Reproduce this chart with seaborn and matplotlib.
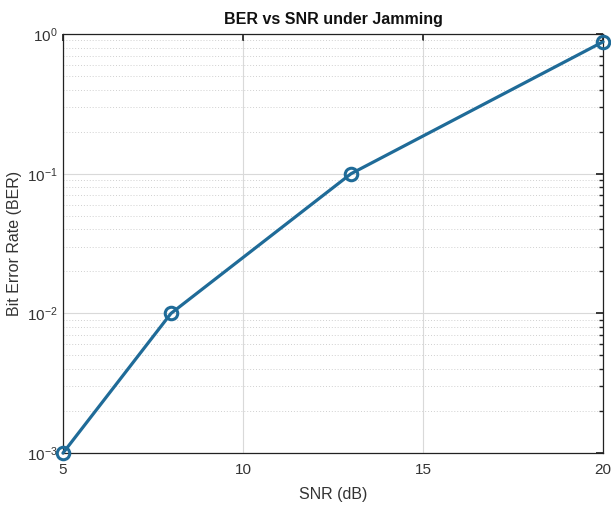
import matplotlib
matplotlib.use("Agg")
import matplotlib.pyplot as plt
import seaborn as sns
import pandas as pd
from matplotlib.ticker import LogLocator, FixedLocator, NullFormatter

snr_db = [5, 8, 13, 20]
ber = [1e-3, 1e-2, 1e-1, 0.88]
x_ticks = [5, 10, 15, 20]
y_ticks = [1e-3, 1e-2, 1e-1, 1e0]
y_tick_labels = [r"$10^{-3}$", r"$10^{-2}$", r"$10^{-1}$", r"$10^{0}$"]

sns.set_theme(style="white")
plt.rcParams["font.family"] = ["Liberation Sans", "DejaVu Sans"]
plt.rcParams["axes.unicode_minus"] = False
plt.rcParams["mathtext.fontset"] = "custom"
plt.rcParams["mathtext.rm"] = "Liberation Sans"
plt.rcParams["mathtext.it"] = "Liberation Sans:italic"

df = pd.DataFrame({"SNR (dB)": snr_db, "BER": ber})
line_color = "#1f6b98"

fig = plt.figure(figsize=(6.11, 5.08), dpi=100)
ax = fig.add_axes([0.103, 0.108, 0.884, 0.825])

sns.lineplot(data=df, x="SNR (dB)", y="BER", ax=ax, color=line_color,
             linewidth=2.3, marker="o", markersize=9, markerfacecolor="none",
             markeredgecolor=line_color, markeredgewidth=2.2, clip_on=False,
             zorder=5)

ax.set_yscale("log")
ax.set_xlim(5, 20)
ax.set_ylim(1e-3, 1e0)
ax.xaxis.set_major_locator(FixedLocator(x_ticks))
ax.set_yticks(y_ticks)
ax.set_yticklabels(y_tick_labels)
ax.yaxis.set_minor_locator(LogLocator(base=10, subs=range(2, 10)))
ax.yaxis.set_minor_formatter(NullFormatter())

ax.grid(True, which="major", color="#d9d9d9", linewidth=0.8, linestyle="-")
ax.grid(True, which="minor", axis="y", color="#d0d0d0", linewidth=0.7, linestyle=(0, (1, 2)))
ax.set_axisbelow(True)

for s in ax.spines.values():
    s.set_visible(True)
    s.set_color("#222222")
    s.set_linewidth(0.9)

ax.tick_params(axis="both", which="both", direction="in", top=True, right=True,
               labelsize=11, colors="#222222", labelcolor="#333333")
ax.tick_params(axis="both", which="major", length=5)
ax.tick_params(axis="x", which="major", pad=7)
ax.tick_params(axis="y", which="minor", length=3)

ax.set_xlabel("SNR (dB)", fontsize=11.5, color="#333333", labelpad=7)
ax.set_ylabel("Bit Error Rate (BER)", fontsize=11.5, color="#333333", labelpad=4)
ax.set_title("BER vs SNR under Jamming", fontsize=11.5, fontweight="bold",
             color="#111111", pad=7)

fig.savefig("out.png", dpi=100, facecolor="white")
